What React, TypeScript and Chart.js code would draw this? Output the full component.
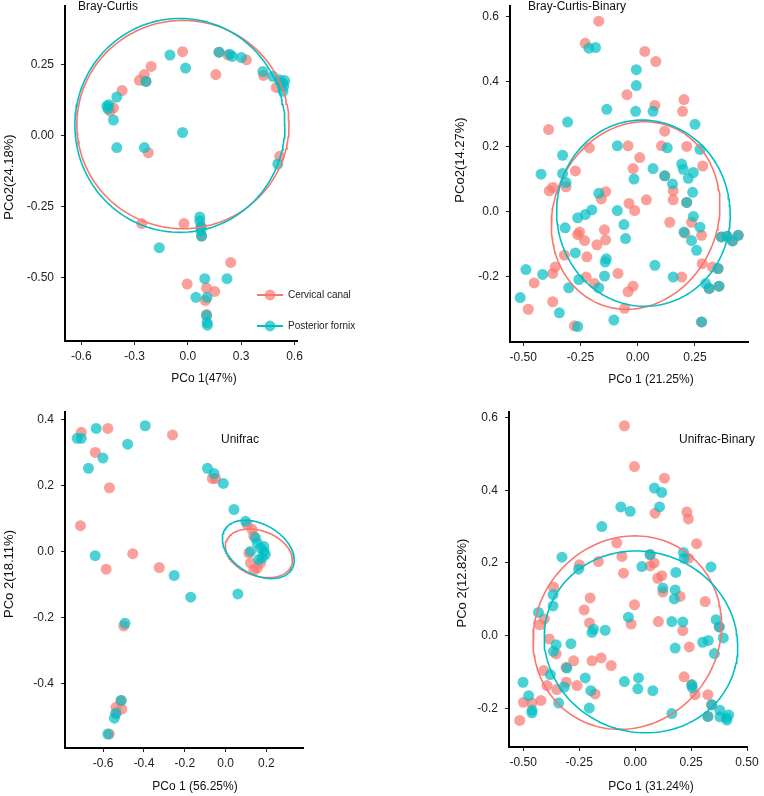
import React, { useEffect, useRef } from "react";
import { Chart, registerables } from "chart.js";

Chart.register(...registerables);

const RED = "#F8766D";
const TEAL = "#00BFC4";
const RED_FILL = "rgba(248,118,109,0.7)";
const TEAL_FILL = "rgba(0,191,196,0.7)";
const FONT = "'Liberation Sans', Arial, Helvetica, sans-serif";

type Pt = [number, number];

const groupLabels = ["Cervical canal", "Posterior fornix"];

// ---------- Panel 1: Bray-Curtis ----------
const bcCervical: Pt[] = [
  [-0.030, 0.297], [-0.207, 0.245], [-0.245, 0.216], [-0.273, 0.196], [-0.236, 0.192], [-0.370, 0.160],
  [-0.419, 0.099], [-0.437, 0.087], [-0.223, -0.059], [0.174, 0.295], [0.226, 0.285], [0.329, 0.268],
  [0.157, 0.216], [0.426, 0.213], [0.497, 0.171], [0.520, 0.190], [0.516, -0.072], [-0.260, -0.309],
  [-0.022, -0.309], [0.075, -0.320], [0.077, -0.353], [0.241, -0.446], [-0.004, -0.522], [0.105, -0.536],
  [0.151, -0.548], [0.099, -0.580], [0.105, -0.629],
];
const bcPosterior: Pt[] = [
  [-0.101, 0.285], [-0.013, 0.239], [-0.236, 0.192], [-0.456, 0.105], [-0.450, 0.095], [-0.445, 0.110],
  [-0.400, 0.137], [-0.419, 0.056], [-0.400, -0.041], [-0.245, -0.041], [-0.030, 0.012], [0.176, 0.295],
  [0.236, 0.288], [0.250, 0.280], [0.301, 0.276], [0.422, 0.227], [0.478, 0.210], [0.516, 0.198],
  [0.535, 0.186], [0.540, 0.175], [0.535, 0.157], [0.545, 0.195], [0.506, -0.099], [0.067, -0.286],
  [0.067, -0.300], [0.073, -0.321], [0.073, -0.335], [0.077, -0.353], [-0.161, -0.394], [0.095, -0.503],
  [0.220, -0.503], [0.045, -0.569], [0.108, -0.569], [0.105, -0.633], [0.108, -0.658], [0.110, -0.667],
];
const bcXTicks = [-0.6, -0.3, 0.0, 0.3, 0.6];
const bcYTicks = [-0.5, -0.25, 0.0, 0.25];
// ellipse: centre, first and second semi-axis vectors (data units)
const bcCervicalEllipse = { c: [-0.028, 0.040] as Pt, u: [0.597, 0] as Pt, v: [0, 0.367] as Pt };
const bcPosteriorEllipse = { c: [-0.045, 0.037] as Pt, u: [0.591, 0] as Pt, v: [0, 0.377] as Pt };

// ---------- Panel 2: Bray-Curtis-Binary ----------
const bcbCervical: Pt[] = [
  [-0.170, 0.585], [-0.229, 0.517], [0.031, 0.492], [0.079, 0.461], [-0.047, 0.359], [0.075, 0.326],
  [0.202, 0.344], [0.196, 0.308], [-0.389, 0.252], [0.118, 0.247], [-0.211, 0.196], [-0.042, 0.202],
  [0.104, 0.202], [0.214, 0.200], [0.009, 0.166], [-0.020, 0.132], [-0.272, 0.125], [0.284, 0.140],
  [-0.386, 0.064], [-0.371, 0.074], [-0.313, 0.076], [-0.140, 0.061], [0.155, 0.064], [0.118, 0.110],
  [-0.159, 0.039], [-0.038, 0.025], [-0.013, 0.003], [0.038, 0.036], [0.155, 0.036], [0.140, -0.033],
  [0.235, -0.033], [0.206, -0.066], [0.279, -0.073], [-0.254, -0.063], [-0.262, -0.071], [-0.232, -0.089],
  [-0.145, -0.056], [-0.140, -0.087], [-0.178, -0.102], [-0.320, -0.134], [-0.222, -0.139], [-0.360, -0.170],
  [-0.371, -0.190], [-0.452, -0.219], [-0.225, -0.201], [-0.189, -0.221], [-0.086, -0.190], [-0.020, -0.229],
  [-0.042, -0.246], [0.282, -0.160], [0.326, -0.170], [0.192, -0.201], [-0.371, -0.277], [-0.478, -0.300],
  [-0.057, -0.297], [-0.276, -0.351], [0.214, 0.028], [0.365, -0.078], [0.391, -0.076], [0.414, -0.090],
  [0.439, -0.073], [0.351, -0.175], [0.312, -0.236], [0.355, -0.229], [0.279, -0.339],
];
const bcbPosterior: Pt[] = [
  [-0.213, 0.502], [-0.184, 0.504], [-0.006, 0.436], [-0.006, 0.387], [-0.135, 0.314], [-0.009, 0.308],
  [0.067, 0.308], [-0.306, 0.275], [0.250, 0.268], [-0.089, 0.202], [0.129, 0.196], [0.272, 0.191],
  [-0.328, 0.173], [-0.422, 0.115], [-0.328, 0.117], [-0.313, 0.089], [0.067, 0.132], [-0.016, 0.100],
  [0.192, 0.146], [0.199, 0.130], [0.243, 0.120], [0.221, 0.102], [0.152, 0.085], [0.118, 0.110],
  [-0.170, 0.056], [0.240, 0.059], [0.214, 0.028], [-0.262, -0.019], [-0.229, -0.009], [-0.200, 0.005],
  [-0.089, 0.003], [-0.060, -0.040], [-0.053, -0.083], [-0.317, -0.050], [0.243, -0.015], [0.202, -0.063],
  [0.235, -0.089], [0.272, -0.048], [0.257, -0.119], [0.365, -0.078], [0.391, -0.076], [0.414, -0.090],
  [0.439, -0.073], [-0.272, -0.127], [-0.137, -0.145], [-0.142, -0.155], [0.075, -0.165], [-0.145, -0.198],
  [-0.257, -0.209], [-0.170, -0.234], [-0.301, -0.234], [-0.415, -0.193], [-0.488, -0.178], [0.155, -0.201],
  [0.351, -0.175], [0.312, -0.236], [0.355, -0.229], [0.297, -0.221], [-0.513, -0.264], [-0.342, -0.311],
  [-0.104, -0.333], [-0.262, -0.353], [0.279, -0.339],
];
const bcbXTicks = [-0.5, -0.25, 0.0, 0.25];
const bcbYTicks = [-0.2, 0.0, 0.2, 0.4, 0.6];
const bcbCervicalEllipse = { c: [-0.009, -0.012] as Pt, u: [0.366, 0] as Pt, v: [0.039, 0.288] as Pt };
const bcbPosteriorEllipse = { c: [0.025, -0.005] as Pt, u: [0.379, 0] as Pt, v: [-0.006, 0.286] as Pt };

// ---------- Panel 3: Unifrac ----------
const ufCervical: Pt[] = [
  [-0.707, 0.362], [-0.577, 0.374], [-0.638, 0.301], [-0.569, 0.194], [-0.260, 0.354], [-0.711, 0.079],
  [-0.455, -0.006], [-0.585, -0.053], [-0.325, -0.048], [-0.065, 0.222], [-0.049, 0.222], [0.106, 0.082],
  [0.130, 0.067], [0.138, 0.047], [0.114, -0.004], [0.122, -0.034], [0.155, -0.050], [0.138, -0.055],
  [0.171, -0.034], [-0.499, -0.225], [-0.512, -0.451], [-0.537, -0.472], [-0.509, -0.477], [-0.537, -0.490],
  [-0.570, -0.553],
];
const ufPosterior: Pt[] = [
  [-0.727, 0.344], [-0.707, 0.344], [-0.634, 0.374], [-0.601, 0.284], [-0.672, 0.253], [-0.480, 0.326],
  [-0.394, 0.382], [-0.639, -0.012], [-0.252, -0.072], [-0.089, 0.253], [-0.057, 0.237], [-0.011, 0.207],
  [0.041, 0.128], [0.098, 0.092], [0.146, 0.042], [0.155, 0.026], [0.171, 0.011], [0.187, 0.001],
  [0.195, -0.008], [0.179, -0.019], [0.162, -0.024], [0.122, 0.001], [0.187, 0.016], [-0.171, -0.138],
  [0.060, -0.128], [-0.493, -0.217], [-0.512, -0.451], [-0.537, -0.490], [-0.545, -0.505], [-0.577, -0.553],
];
const ufXTicks = [-0.6, -0.4, -0.2, 0.0, 0.2];
const ufYTicks = [-0.4, -0.2, 0.0, 0.2, 0.4];
const ufCervicalEllipse = { c: [0.163, -0.005] as Pt, u: [0.160, -0.0365] as Pt, v: [-0.0374, -0.064] as Pt };
const ufPosteriorEllipse = { c: [0.160, 0.007] as Pt, u: [0.165, -0.059] as Pt, v: [-0.061, -0.066] as Pt };

// ---------- Panel 4: Unifrac-Binary ----------
const ufbCervical: Pt[] = [
  [-0.048, 0.577], [-0.003, 0.465], [0.131, 0.433], [0.089, 0.337], [0.231, 0.340], [0.238, 0.321],
  [0.275, 0.253], [-0.082, 0.255], [-0.059, 0.218], [-0.164, 0.204], [-0.249, 0.195], [0.067, 0.192],
  [0.085, 0.200], [-0.052, 0.172], [0.119, 0.165], [0.101, 0.158], [0.238, 0.213], [-0.365, 0.134],
  [0.124, 0.120], [-0.201, 0.104], [0.201, 0.108], [0.313, 0.094], [-0.228, 0.071], [-0.003, 0.085],
  [-0.204, 0.035], [-0.018, 0.032], [0.104, 0.039], [0.213, 0.014], [-0.406, 0.046], [-0.427, 0.030],
  [-0.384, -0.009], [-0.353, -0.050], [-0.275, -0.069], [-0.193, -0.069], [-0.152, -0.061], [-0.107, -0.082],
  [0.242, -0.031], [-0.309, -0.087], [-0.409, -0.096], [-0.394, -0.137], [-0.350, -0.148], [-0.308, -0.128],
  [-0.260, -0.137], [-0.421, -0.178], [-0.499, -0.183], [-0.461, -0.185], [-0.516, -0.233], [-0.179, -0.160],
  [0.219, -0.113], [0.268, -0.162], [0.325, -0.162], [0.067, 0.223], [0.376, 0.024], [0.253, -0.135],
  [0.325, -0.222], [0.342, -0.190],
];
const ufbPosterior: Pt[] = [
  [0.086, 0.406], [0.119, 0.394], [-0.064, 0.354], [-0.022, 0.342], [0.109, 0.354], [-0.149, 0.300],
  [-0.327, 0.216], [-0.253, 0.183], [0.030, 0.190], [0.067, 0.223], [0.216, 0.229], [0.219, 0.213],
  [0.339, 0.189], [0.182, 0.174], [0.124, 0.131], [0.179, 0.126], [0.175, 0.101], [-0.367, 0.113],
  [-0.432, 0.064], [-0.367, 0.082], [-0.186, 0.018], [-0.193, 0.009], [-0.134, 0.015], [-0.030, 0.051],
  [0.164, 0.039], [0.213, 0.038], [0.179, -0.034], [-0.353, -0.025], [-0.365, -0.043], [-0.287, -0.022],
  [0.362, 0.044], [0.376, 0.024], [0.394, -0.006], [0.302, -0.018], [0.327, -0.013], [0.354, -0.049],
  [-0.379, -0.107], [-0.305, -0.089], [-0.317, -0.141], [-0.223, -0.116], [-0.198, -0.151], [-0.048, -0.126],
  [0.015, -0.116], [0.012, -0.146], [0.079, -0.151], [-0.342, -0.185], [-0.501, -0.128], [-0.476, -0.165],
  [-0.461, -0.205], [-0.461, -0.212], [-0.205, -0.199], [0.253, -0.135], [0.256, -0.143], [0.164, -0.214],
  [0.325, -0.222], [0.342, -0.190], [0.379, -0.205], [0.379, -0.223], [0.409, -0.226], [0.418, -0.218],
  [0.410, -0.232],
];
const ufbXTicks = [-0.5, -0.25, 0.0, 0.25, 0.5];
const ufbYTicks = [-0.2, 0.0, 0.2, 0.4, 0.6];
const ufbCervicalEllipse = { c: [-0.035, 0.0085] as Pt, u: [0.420, 0] as Pt, v: [0.034, 0.266] as Pt };
const ufbPosteriorEllipse = { c: [0.026, -0.017] as Pt, u: [0.432, 0] as Pt, v: [-0.022, 0.250] as Pt };

type Ell = { c: Pt; u: Pt; v: Pt };

function ellipsePoints(e: Ell) {
  const pts: { x: number; y: number }[] = [];
  const n = 160;
  for (let i = 0; i <= n; i++) {
    const t = (i / n) * Math.PI * 2;
    pts.push({
      x: e.c[0] + e.u[0] * Math.cos(t) + e.v[0] * Math.sin(t),
      y: e.c[1] + e.u[1] * Math.cos(t) + e.v[1] * Math.sin(t),
    });
  }
  return pts;
}

interface PanelCfg {
  canvas: { x: number; y: number; w: number; h: number };
  area: { l: number; t: number; r: number; b: number };
  xRange: [number, number];
  yRange: [number, number];
  xTicks: number[];
  yTicks: number[];
  xDec: number;
  yDec: number;
  cervical: Pt[];
  posterior: Pt[];
  cervicalEllipse: Ell;
  posteriorEllipse: Ell;
  title: string;
  titlePos: [number, number];
  xTitle: string;
  xTitlePos: [number, number];
  yTitle: string;
  yTitlePos: [number, number];
  legend?: boolean;
}

const panels: PanelCfg[] = [
  {
    canvas: { x: 0, y: 0, w: 380, h: 394 },
    area: { l: 65, t: 4, r: 297, b: 341 },
    xRange: [-0.6916, 0.614],
    yRange: [-0.7228, 0.4596],
    xTicks: bcXTicks, yTicks: bcYTicks, xDec: 1, yDec: 2,
    cervical: bcCervical, posterior: bcPosterior,
    cervicalEllipse: bcCervicalEllipse, posteriorEllipse: bcPosteriorEllipse,
    title: "Bray-Curtis", titlePos: [78, 7],
    xTitle: "PCo 1(47%)", xTitlePos: [204, 379],
    yTitle: "PCo2(24.18%)", yTitlePos: [9, 177],
    legend: true,
  },
  {
    canvas: { x: 380, y: 0, w: 384, h: 394 },
    area: { l: 510, t: 4, r: 748, b: 342 },
    xRange: [-0.5576, 0.4817],
    yRange: [-0.4006, 0.633],
    xTicks: bcbXTicks, yTicks: bcbYTicks, xDec: 2, yDec: 1,
    cervical: bcbCervical, posterior: bcbPosterior,
    cervicalEllipse: bcbCervicalEllipse, posteriorEllipse: bcbPosteriorEllipse,
    title: "Bray-Curtis-Binary", titlePos: [528, 7],
    xTitle: "PCo 1 (21.25%)", xTitlePos: [651, 380],
    yTitle: "PCo2(14.27%)", yTitlePos: [460, 160],
  },
  {
    canvas: { x: 0, y: 396, w: 380, h: 400 },
    area: { l: 65, t: 412, r: 303, b: 748 },
    xRange: [-0.7868, 0.379],
    yRange: [-0.5953, 0.4237],
    xTicks: ufXTicks, yTicks: ufYTicks, xDec: 1, yDec: 1,
    cervical: ufCervical, posterior: ufPosterior,
    cervicalEllipse: ufCervicalEllipse, posteriorEllipse: ufPosteriorEllipse,
    title: "Unifrac", titlePos: [221, 440],
    xTitle: "PCo 1 (56.25%)", xTitlePos: [195, 787],
    yTitle: "PCo 2(18.11%)", yTitlePos: [9, 574],
  },
  {
    canvas: { x: 380, y: 396, w: 384, h: 400 },
    area: { l: 509, t: 412, r: 747, b: 747 },
    xRange: [-0.5638, 0.5],
    yRange: [-0.306, 0.6151],
    xTicks: ufbXTicks, yTicks: ufbYTicks, xDec: 2, yDec: 1,
    cervical: ufbCervical, posterior: ufbPosterior,
    cervicalEllipse: ufbCervicalEllipse, posteriorEllipse: ufbPosteriorEllipse,
    title: "Unifrac-Binary", titlePos: [679, 440],
    xTitle: "PCo 1 (31.24%)", xTitlePos: [651, 787],
    yTitle: "PCo 2(12.82%)", yTitlePos: [462, 583],
  },
];

function makeOverlay(cfg: PanelCfg) {
  return {
    id: "overlay",
    afterDraw(chart: any) {
      const ctx = chart.ctx as CanvasRenderingContext2D;
      const ox = cfg.canvas.x;
      const oy = cfg.canvas.y;
      ctx.save();
      ctx.fillStyle = "#111";
      ctx.textBaseline = "middle";
      ctx.font = `12px ${FONT}`;
      ctx.textAlign = "left";
      ctx.fillText(cfg.title, cfg.titlePos[0] - ox, cfg.titlePos[1] - oy);
      ctx.textAlign = "center";
      ctx.fillText(cfg.xTitle, cfg.xTitlePos[0] - ox, cfg.xTitlePos[1] - oy);
      ctx.save();
      ctx.translate(cfg.yTitlePos[0] - ox, cfg.yTitlePos[1] - oy);
      ctx.rotate(-Math.PI / 2);
      ctx.font = `13px ${FONT}`;
      ctx.fillText(cfg.yTitle, 0, 0);
      ctx.restore();
      if (cfg.legend) {
        const items = [
          { label: groupLabels[0], line: RED, fill: RED_FILL, y: 295 },
          { label: groupLabels[1], line: TEAL, fill: TEAL_FILL, y: 326 },
        ];
        for (const it of items) {
          const y = it.y - oy;
          ctx.strokeStyle = it.line;
          ctx.lineWidth = 2;
          ctx.beginPath();
          ctx.moveTo(257 - ox, y);
          ctx.lineTo(283 - ox, y);
          ctx.stroke();
          ctx.fillStyle = it.fill;
          ctx.beginPath();
          ctx.arc(270 - ox, y, 5.4, 0, Math.PI * 2);
          ctx.fill();
          ctx.fillStyle = "#222";
          ctx.font = `10px ${FONT}`;
          ctx.textAlign = "left";
          ctx.fillText(it.label, 288 - ox, y);
        }
      }
      ctx.restore();
    },
  };
}

function Panel({ cfg }: { cfg: PanelCfg }) {
  const ref = useRef<HTMLCanvasElement | null>(null);
  useEffect(() => {
    if (!ref.current) return;
    const { canvas, area } = cfg;
    const yWidth = area.l - canvas.x;
    const xHeight = canvas.y + canvas.h - area.b;
    const tickFont = { family: FONT, size: 12 };
    const pointDs = (pts: Pt[], fill: string, label: string, order: number) => ({
      label,
      data: pts.map(([x, y]) => ({ x, y })),
      backgroundColor: fill,
      borderWidth: 0,
      pointRadius: 5.5,
      pointHoverRadius: 5.5,
      order,
      clip: false,
    });
    const ellDs = (e: Ell, color: string, order: number) => ({
      label: "ellipse",
      data: ellipsePoints(e),
      showLine: true,
      borderColor: color,
      borderWidth: 1.6,
      pointRadius: 0,
      fill: false,
      tension: 0,
      order,
      clip: false,
    });
    const zeroPad = (s: any) => {
      s.paddingLeft = 0;
      s.paddingRight = 0;
      s.paddingTop = 0;
      s.paddingBottom = 0;
    };
    const chart = new Chart(ref.current, {
      type: "scatter",
      data: {
        datasets: [
          ellDs(cfg.posteriorEllipse, TEAL, 0),
          ellDs(cfg.cervicalEllipse, RED, 1),
          pointDs(cfg.posterior, TEAL_FILL, groupLabels[1], 2),
          pointDs(cfg.cervical, RED_FILL, groupLabels[0], 3),
        ] as any,
      },
      options: {
        responsive: false,
        animation: false,
        events: [],
        layout: {
          padding: {
            left: 0,
            top: area.t - canvas.y,
            right: canvas.x + canvas.w - area.r,
            bottom: 0,
          },
        },
        plugins: { legend: { display: false }, tooltip: { enabled: false } },
        scales: {
          x: {
            type: "linear",
            min: cfg.xRange[0],
            max: cfg.xRange[1],
            afterBuildTicks: (s: any) => {
              s.ticks = cfg.xTicks.map((v) => ({ value: v }));
            },
            afterFit: (s: any) => {
              s.height = xHeight;
              zeroPad(s);
            },
            border: { display: true, color: "#000", width: 2 },
            grid: { display: true, drawOnChartArea: false, drawTicks: true, tickLength: 4, color: "#222", lineWidth: 1 },
            ticks: {
              autoSkip: false,
              maxRotation: 0,
              padding: 4,
              color: "#222",
              font: tickFont,
              callback: (v: any) => Number(v).toFixed(cfg.xDec),
            },
          },
          y: {
            type: "linear",
            min: cfg.yRange[0],
            max: cfg.yRange[1],
            afterBuildTicks: (s: any) => {
              s.ticks = cfg.yTicks.map((v) => ({ value: v }));
            },
            afterFit: (s: any) => {
              s.width = yWidth;
              zeroPad(s);
            },
            border: { display: true, color: "#000", width: 2 },
            grid: { display: true, drawOnChartArea: false, drawTicks: true, tickLength: 4, color: "#222", lineWidth: 1 },
            ticks: {
              autoSkip: false,
              padding: 7,
              color: "#222",
              font: tickFont,
              callback: (v: any) => Number(v).toFixed(cfg.yDec),
            },
          },
        },
      } as any,
      plugins: [makeOverlay(cfg)],
    });
    return () => chart.destroy();
  }, [cfg]);
  return (
    <canvas
      ref={ref}
      width={cfg.canvas.w}
      height={cfg.canvas.h}
      style={{ position: "absolute", left: cfg.canvas.x, top: cfg.canvas.y, width: cfg.canvas.w, height: cfg.canvas.h }}
    />
  );
}

export default function App() {
  return (
    <div style={{ position: "absolute", left: 0, top: 0, width: 764, height: 796, background: "#fff", overflow: "hidden" }}>
      {panels.map((p, i) => (
        <Panel key={i} cfg={p} />
      ))}
    </div>
  );
}
